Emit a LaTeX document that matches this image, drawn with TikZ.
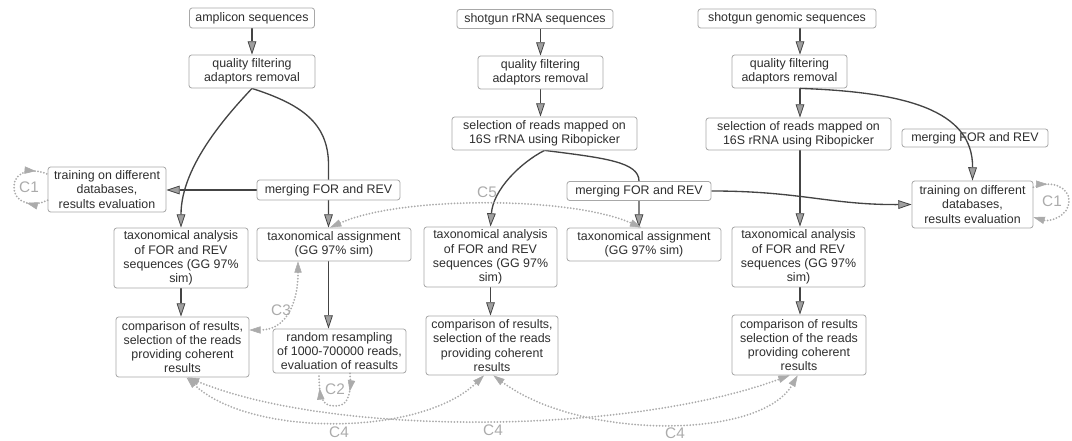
\documentclass[tikz,border=0pt]{standalone}
\usepackage{fontspec}
\setmainfont{Liberation Sans}
\usetikzlibrary{arrows.meta,backgrounds,decorations.markings}
\definecolor{edgec}{HTML}{444444}
\definecolor{boxc}{HTML}{A8A8A8}
\definecolor{dotc}{HTML}{ABABAB}
\definecolor{txtc}{HTML}{2E2E2E}
\definecolor{tipfill}{HTML}{A0A0A0}
\newcommand\B[5]{\node[box,minimum width=#3*0.75pt,minimum height=#4*0.75pt] (#1) at (#2) {#5};}
\begin{document}
\begin{tikzpicture}[x=0.75pt,y=-0.75pt,
 st/.tip={Triangle[length=10pt,width=6.5pt,fill=tipfill,line width=0.6pt]},
 dt/.tip={Triangle[length=8.5pt,width=5.5pt,fill=dotc,line width=0.4pt]},
 box/.style={draw=boxc, line width=0.6pt, rounded corners=2pt, fill=white, align=center, inner sep=0pt, text=txtc, font=\fontsize{9.3}{10.7}\selectfont},
 flow/.style={draw=edgec, line width=1pt, -st},
 dots/.style={draw=dotc, line width=1.5pt, line cap=round, dash pattern=on 0pt off 2.3pt},
 lab/.style={text=dotc, font=\fontsize{11.5}{12}\selectfont, inner sep=0pt},
]
\useasboundingbox (0,0) rectangle (1072,441);
\coordinate (colR) at (800,0);
% nodes
\B{amp}{252,18}{125}{20}{amplicon sequences}
\B{qfL}{252,71.5}{126}{33}{quality filtering\\adaptors removal}
\B{trL}{107,189.5}{118}{45}{training on different\\databases,\\results evaluation}
\B{mgL}{328.5,190}{143}{20}{merging FOR and REV}
\B{taL}{181,258}{134}{60}{taxonomical analysis\\of FOR and REV\\sequences (GG 97\%\\sim)}
\B{asL}{334,244.5}{154}{33}{taxonomical assignment\\(GG 97\% sim)}
\B{cpL}{182.5,347}{133}{60}{comparison of results,\\selection of the reads\\providing coherent\\results}
\B{rnd}{339.5,351}{133}{44}{random resampling\\of 1000-700000 reads,\\evaluation of reasults}
\B{rna}{535,19}{156}{19}{shotgun rRNA sequences}
\B{qfM}{540.5,72.5}{125}{33}{quality filtering\\adaptors removal}
\B{seM}{544.5,133.5}{185}{33}{selection of reads mapped on\\16S rRNA using Ribopicker}
\B{mgM}{639,191}{144}{19}{merging FOR and REV}
\B{taM}{490.5,257}{133}{60}{taxonomical analysis\\of FOR and REV\\sequences (GG 97\%\\sim)}
\B{asM}{644,244.5}{154}{33}{taxonomical assignment\\(GG 97\% sim)}
\B{cpM}{492,345.5}{132}{59}{comparison of results,\\selection of the reads\\providing coherent\\results}
\B{gen}{787,18.5}{178}{19}{shotgun genomic sequences}
\B{qfR}{789.5,71.5}{115}{33}{quality filtering\\adaptors removal}
\B{seR}{798.5,134}{185}{32}{selection of reads mapped on\\16S rRNA using Ribopicker}
\B{mgR}{975,138}{146}{18}{merging FOR and REV}
\B{trR}{972.5,204.5}{121}{47}{training on different\\databases,\\results evaluation}
\B{taR}{798.5,257}{133}{60}{taxonomical analysis\\of FOR and REV\\sequences (GG 97\%\\sim)}
\B{cpR}{799,345}{134}{60}{comparison of results\\selection of the reads\\providing coherent\\results}
% solid edges
\begin{scope}[on background layer]
\draw[flow] (amp.south) -- (qfL.north);
\draw[flow] (qfL.south) .. controls (230,112) and (181,165) .. (taL.north);
\draw[flow] (qfL.south) .. controls (300,104) and (328.5,122) .. (328.5,165) -- (mgL.south |- asL.north);
\draw[flow] (mgL.west) -- (mgL.west -| trL.east);
\draw[flow] (taL.south) -- (taL.south |- cpL.north);
\draw[flow] (mgL.south |- asL.south) -- (mgL.south |- rnd.north);
\draw[flow] (qfM.north |- rna.south) -- (qfM.north);
\draw[flow] (qfM.south) -- (qfM.south |- seM.north);
\draw[flow] (seM.south) .. controls (520,163) and (493,190) .. (taM.north);
\draw[flow] (seM.south) .. controls (605,158) and (639,162) .. (mgM.north) -- (mgM.south |- asM.north);
\draw[flow] (mgM.east) .. controls (800,191) and (830,205) .. (trR.west);
\draw[flow] (taM.south) -- (taM.south |- cpM.north);
\draw[flow] (gen.south -| colR) -- (qfR.north -| colR);
\draw[flow] (qfR.south -| colR) -- (seR.north -| colR);
\draw[flow] (seR.south -| colR) -- (taR.north -| colR);
\draw[flow] (taR.south -| colR) -- (cpR.north -| colR);
\end{scope}
\draw[flow] (qfR.south -| colR) .. controls (905,92) and (973,110) .. (trR.north);
% dotted connectors
\draw[dots, postaction={decorate}, decoration={markings, mark=at position 0.25 with {\arrow{dt}}, mark=at position 0.86 with {\arrow{dt}}}]
  ([yshift=-8pt]trL.west) .. controls (36,207) and (14,205) .. (14,187) .. controls (14,170) and (34,168) .. ([yshift=11.5pt]trL.west);
\draw[dots, -dt, postaction={decorate}, decoration={markings, mark=at position 0.16 with {\arrow{dt}}}]
  ([yshift=13pt]trR.east) .. controls (1050,180) and (1069,186) .. (1069,201) .. controls (1069,216) and (1050,222) .. ([yshift=-9.5pt]trR.east);
\draw[dots, postaction={decorate}, decoration={markings, mark=at position 0.22 with {\arrow{dt}}, mark=at position 0.82 with {\arrow{dt}}}]
  ([xshift=7.9pt]rnd.south) .. controls (352,400) and (345,406) .. (335,406) .. controls (322,406) and (319,398) .. ([xshift=-15.4pt]rnd.south);
\draw[dots, dt-dt] ([xshift=-27pt]asL.south) .. controls (298,305) and (285,330) .. ([yshift=12.75pt]cpL.east);
\draw[dots, dt-dt] ([xshift=3pt]cpL.south) .. controls (250,437) and (420,437) .. ([xshift=-6pt]cpM.south);
\draw[dots, dt-dt] ([xshift=4pt]cpL.south) .. controls (330,436) and (624,436) .. ([xshift=-7pt]cpR.south);
\draw[dots, dt-dt] ([xshift=1pt]cpM.south) .. controls (580,440) and (760,440) .. ([xshift=-1pt]cpR.south);
\draw[dots, dt-dt] ([xshift=-3pt]asL.north) .. controls (400,196) and (570,196) .. ([xshift=-2pt]asM.north);
% labels
\node[lab] (c1a) at (29,187) {C1};
\node[lab] (c1b) at (1052,201) {C1};
\node[lab] (c2) at (335,389) {C2};
\node[lab] (c3) at (281,310) {C3};
\node[lab] (c4a) at (339,432) {C4};
\node[lab] (c4b) at (493,430) {C4};
\node[lab] (c4c) at (675,433) {C4};
\node[lab] (c5) at (487,192) {C5};
\end{tikzpicture}
\end{document}
